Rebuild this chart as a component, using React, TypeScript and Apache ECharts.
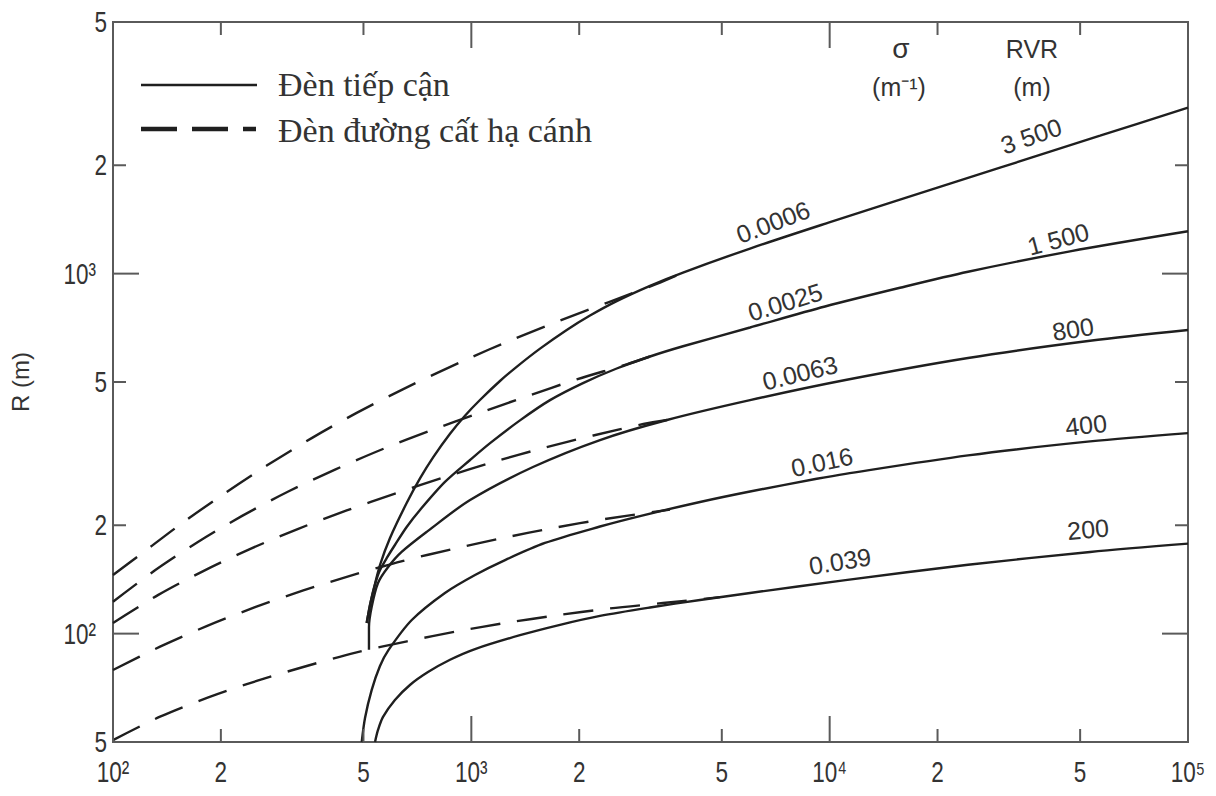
import React, { useEffect, useRef } from 'react';
import * as echarts from 'echarts';

const SANS = "'Liberation Sans', Arial, Helvetica, sans-serif";
const SERIF = "'Liberation Serif', 'Times New Roman', serif";
const INK = '#1f1f1f';
const TEXT = '#333333';
const FRAME = '#5a5a5a';

const X_MIN = 100;
const X_MAX = 100000;
const Y_MIN = 50;
const Y_MAX = 5000;

// axis ticks and their labels
const xTicks = [100, 200, 500, 1000, 2000, 5000, 10000, 20000, 50000, 100000];
const xTickLabels = ['10²', '2', '5', '10³', '2', '5', '10⁴', '2', '5', '10⁵'];
const yTicks = [50, 100, 200, 500, 1000, 2000, 5000];
const yTickLabels = ['5', '10²', '2', '5', '10³', '2', '5'];

// Approach lights (solid) — [intensity, R]
const approach0006 = [[510.5, 107], [521.5, 120.1], [535, 133.9], [556, 155.1], [593, 184.4], [660, 230.6], [719, 269.9], [783, 309.3], [872, 359.2], [960, 403.1], [1057, 445.6], [1202, 503.2], [1338, 551], [1555, 619], [1846, 697.6], [2144, 765], [2545, 838.9], [3152, 925.1], [3897, 1007], [5995, 1174], [10020, 1390], [15710, 1605], [29880, 1969], [56830, 2416], [100000, 2893]];
const approach0025 = [[510.5, 107], [521.5, 120.1], [535, 133.9], [553, 148.4], [581, 162.3], [612, 176.3], [660, 197.8], [719, 220.5], [844, 263.8], [992, 303.6], [1128, 338.1], [1367, 391.2], [1658, 445.2], [2049, 496.5], [2545, 545.1], [3152, 588.6], [3897, 628.4], [5995, 708.6], [9705, 810.5], [15710, 913.5], [24330, 1012], [46850, 1153], [100000, 1311]];
const approach0063 = [[518, 90.2], [518, 104.3], [527, 118.6], [549, 138.3], [586, 153.1], [639, 168.6], [757, 192.9], [992, 235.1], [1486, 290.3], [2286, 345], [3516, 392.2], [5995, 445.3], [11070, 506.5], [24330, 583], [53300, 650.7], [100000, 697]];
const approach016 = [[494.5, 50], [505, 58.3], [527, 69.7], [556, 81.3], [587, 90], [682, 109.1], [844, 129.7], [1024, 145.5], [1242, 160.1], [1605, 178.6], [2286, 198.4], [2956, 212.1], [4347, 232.1], [5995, 248.2], [9202, 269.2], [11070, 277.9], [24330, 312.7], [53300, 341.9], [100000, 360.6]];
const approach039 = [[538.6, 50], [549, 54], [567, 58.7], [612, 65.4], [674, 72], [757, 78.2], [872, 84.6], [1024, 90.6], [1367, 99], [1768, 105.8], [2286, 112], [3152, 118.2], [4347, 124], [5995, 129.7], [11070, 140.8], [24330, 155.3], [53300, 168.6], [100000, 177.8]];

// Runway edge lights (dashed)
const runway0006 = [[100, 145.5], [119, 165.6], [155.5, 202.4], [205.4, 245.7], [268.5, 292.9], [358.5, 349.2], [478.6, 410.4], [645.8, 477.9], [960, 575.1], [1309, 657.2], [1768, 740.7], [2411, 832.5], [3291, 936.7], [3897, 1007]];
const runway0025 = [[100, 122.6], [131, 149.9], [173, 179.9], [228.6, 212], [308.4, 248.2], [416.5, 285.5], [562.2, 324.7], [766.7, 366.1], [1057, 410.8], [1427, 456], [1968, 508.4], [2714, 559.6], [3152, 588.6]];
const runway0063 = [[100, 107.1], [133.8, 128.1], [178.6, 149.2], [240.9, 171.7], [328.9, 195.5], [449, 219.9], [612.4, 245], [844.3, 272.3], [1152, 299.7], [1588, 327.8], [2190, 355.1], [3020, 382.2], [3516, 392.2]];
const runway016 = [[100, 79.25], [135.3, 92], [182.5, 104.9], [249.1, 118.4], [339.7, 131.8], [468.3, 145.6], [645.8, 159.3], [888.9, 171.9], [1226, 184.4], [1712, 197], [2360, 208.1], [3585, 221]];
const runway039 = [[100, 50.6], [135.3, 58.78], [184.5, 66.5], [251.8, 73.9], [347.2, 81.3], [478.6, 88.7], [661.4, 95.2], [917.9, 101.6], [1255, 107.2], [1730, 112.4], [2438, 117.5], [3427, 121.6], [4943, 126.3]];

// Curve annotations (sigma and RVR)
const curveLabelText = ['0.0006', '0.0025', '0.0063', '0.016', '0.039', '3 500', '1 500', '800', '400', '200'];
const curveLabelX = [6950, 7508, 8265, 9520, 10690, 36470, 43390, 47760, 51930, 52600];
const curveLabelY = [1391, 834, 530, 300, 159, 2412, 1248, 702, 380, 195];
const curveLabelAngle = [21, 17, 14, 12, 9, 19, 15, 9, 6, 5];

const isMajor = (v: number) => Math.abs(Math.log10(v) - Math.round(Math.log10(v))) < 1e-9;

export default function App() {
  const ref = useRef<HTMLDivElement>(null);

  useEffect(() => {
    if (!ref.current) return;
    const chart = echarts.init(ref.current, undefined, { renderer: 'svg' });

    const line = (name: string, data: number[][], dashed: boolean) => ({
      name,
      type: 'line',
      data,
      symbol: 'none',
      smooth: 0.3,
      silent: true,
      z: 3,
      lineStyle: dashed ? { color: INK, width: 2.4, type: [30, 17] } : { color: INK, width: 2.4 },
    });

    const hiddenAxis = {
      axisLine: { show: false },
      axisTick: { show: false },
      axisLabel: { show: false },
      splitLine: { show: false },
      minorTick: { show: false },
      minorSplitLine: { show: false },
    };

    const tickFont = { fontSize: 30, fontFamily: SANS, fill: TEXT };
    const TICK_SX = 0.75;

    const option: any = {
      animation: false,
      backgroundColor: '#ffffff',
      grid: { left: 113, right: 28, top: 22, bottom: 54, show: true, borderColor: FRAME, borderWidth: 2, backgroundColor: 'transparent' },
      xAxis: { type: 'log', logBase: 10, min: X_MIN, max: X_MAX, ...hiddenAxis },
      yAxis: {
        type: 'log', logBase: 10, min: Y_MIN, max: Y_MAX, ...hiddenAxis,
        name: 'R (m)', nameLocation: 'middle', nameGap: 81, nameRotate: 90,
        nameTextStyle: { fontFamily: SANS, fontSize: 24, color: TEXT },
      },
      series: [
        line('Đèn tiếp cận σ=0.0006', approach0006, false),
        line('Đèn tiếp cận σ=0.0025', approach0025, false),
        line('Đèn tiếp cận σ=0.0063', approach0063, false),
        line('Đèn tiếp cận σ=0.016', approach016, false),
        line('Đèn tiếp cận σ=0.039', approach039, false),
        line('Đèn đường cất hạ cánh σ=0.0006', runway0006, true),
        line('Đèn đường cất hạ cánh σ=0.0025', runway0025, true),
        line('Đèn đường cất hạ cánh σ=0.0063', runway0063, true),
        line('Đèn đường cất hạ cánh σ=0.016', runway016, true),
        line('Đèn đường cất hạ cánh σ=0.039', runway039, true),
        {
          type: 'custom', name: 'xTicks', silent: true, clip: false, z: 5,
          data: xTicks.map((v) => [v, Y_MIN]),
          encode: { x: 0, y: 1 },
          renderItem: (params: any, api: any) => {
            const v = api.value(0);
            const b = api.coord([v, Y_MIN]);
            const t = api.coord([v, Y_MAX]);
            const len = isMajor(v) ? 26 : 13;
            return {
              type: 'group',
              children: [
                { type: 'line', shape: { x1: b[0], y1: b[1], x2: b[0], y2: b[1] - len }, style: { stroke: FRAME, lineWidth: 2 } },
                { type: 'line', shape: { x1: t[0], y1: t[1], x2: t[0], y2: t[1] + len }, style: { stroke: FRAME, lineWidth: 2 } },
                {
                  type: 'text', x: b[0], y: b[1] + 30, scaleX: TICK_SX,
                  style: { text: xTickLabels[params.dataIndex], ...tickFont, align: 'center', verticalAlign: 'middle' },
                },
              ],
            };
          },
        },
        {
          type: 'custom', name: 'yTicks', silent: true, clip: false, z: 5,
          data: yTicks.map((v) => [X_MIN, v]),
          encode: { x: 0, y: 1 },
          renderItem: (params: any, api: any) => {
            const v = api.value(1);
            const l = api.coord([X_MIN, v]);
            const r = api.coord([X_MAX, v]);
            const major = isMajor(v);
            const len = major ? 26 : 13;
            return {
              type: 'group',
              children: [
                { type: 'line', shape: { x1: l[0], y1: l[1], x2: l[0] + len, y2: l[1] }, style: { stroke: FRAME, lineWidth: 2 } },
                { type: 'line', shape: { x1: r[0], y1: r[1], x2: r[0] - len, y2: r[1] }, style: { stroke: FRAME, lineWidth: 2 } },
                {
                  type: 'text', x: l[0] - (major ? 17 : 6), y: l[1], scaleX: TICK_SX,
                  style: { text: yTickLabels[params.dataIndex], ...tickFont, align: 'right', verticalAlign: 'middle' },
                },
              ],
            };
          },
        },
        {
          type: 'custom', name: 'curveLabels', silent: true, clip: false, z: 6,
          data: curveLabelX.map((x, i) => [x, curveLabelY[i]]),
          encode: { x: 0, y: 1 },
          renderItem: (params: any, api: any) => {
            const i = params.dataIndex;
            const p = api.coord([api.value(0), api.value(1)]);
            return {
              type: 'text', x: p[0], y: p[1], rotation: (curveLabelAngle[i] * Math.PI) / 180,
              style: { text: curveLabelText[i], fontSize: 25, fontFamily: SANS, fill: TEXT, align: 'center', verticalAlign: 'middle' },
            };
          },
        },
      ],
      graphic: [
        { type: 'line', silent: true, shape: { x1: 141, y1: 85, x2: 257, y2: 85 }, style: { stroke: INK, lineWidth: 2.5 } },
        { type: 'line', silent: true, shape: { x1: 141, y1: 129, x2: 256, y2: 129 }, style: { stroke: INK, lineWidth: 4.5, lineDash: [36, 15] } },
        { type: 'text', silent: true, x: 278, y: 84, style: { text: 'Đèn tiếp cận', fontSize: 34, fontFamily: SERIF, fill: TEXT, align: 'left', verticalAlign: 'middle' } },
        { type: 'text', silent: true, x: 278, y: 130, style: { text: 'Đèn đường cất hạ cánh', fontSize: 34, fontFamily: SERIF, fill: TEXT, align: 'left', verticalAlign: 'middle' } },
        { type: 'text', silent: true, x: 901, y: 48, style: { text: 'σ', fontSize: 28, fontFamily: SANS, fill: TEXT, align: 'center', verticalAlign: 'middle' } },
        { type: 'text', silent: true, x: 899, y: 87, style: { text: '(m⁻¹)', fontSize: 25, fontFamily: SANS, fill: TEXT, align: 'center', verticalAlign: 'middle' } },
        { type: 'text', silent: true, x: 1032, y: 49, style: { text: 'RVR', fontSize: 25, fontFamily: SANS, fill: TEXT, align: 'center', verticalAlign: 'middle' } },
        { type: 'text', silent: true, x: 1032, y: 87, style: { text: '(m)', fontSize: 25, fontFamily: SANS, fill: TEXT, align: 'center', verticalAlign: 'middle' } },
      ],
    };

    chart.setOption(option);
    return () => chart.dispose();
  }, []);

  return <div ref={ref} style={{ position: 'fixed', left: 0, top: 0, width: 1216, height: 796 }} />;
}
